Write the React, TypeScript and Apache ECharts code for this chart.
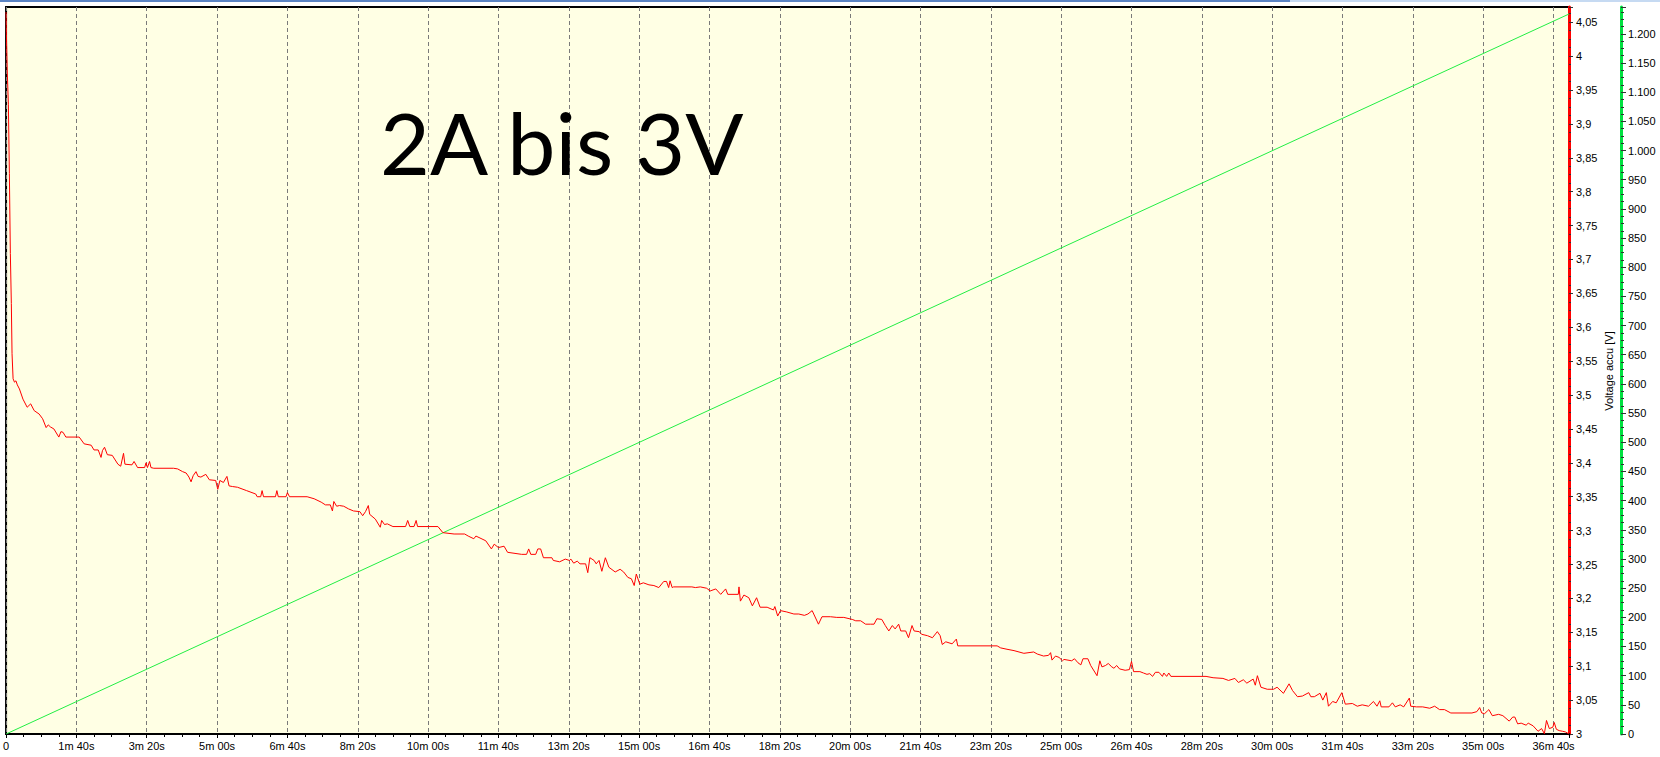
import {useEffect, useRef} from 'react';
import * as echarts from 'echarts';

// discharge 2A down to 3V: [seconds, volts]
const voltageDrop = [
    [0, 4.065], [0.5, 4.031], [1.8, 3.975], [3.3, 3.929], [4.7, 3.827], [6.1, 3.709], [7.5, 3.635], [8.5, 3.561], [10, 3.524],
];
const voltageEarly = [
    [12, 3.519], [14, 3.521], [16, 3.515], [19, 3.509], [24, 3.494], [30, 3.482], [35, 3.487], [40, 3.477], [47, 3.472],
    [52, 3.465], [57, 3.452], [60, 3.456], [63, 3.453], [68, 3.45], [75, 3.438], [78, 3.446], [81, 3.445], [85, 3.438],
    [104, 3.438], [111, 3.428], [121, 3.426], [125, 3.419], [131, 3.419], [135, 3.408], [137, 3.418], [140, 3.423],
    [144, 3.412], [151, 3.411], [159, 3.398], [163, 3.395], [167, 3.414], [169, 3.398], [179, 3.397], [182, 3.402],
    [187, 3.393], [197, 3.393], [199, 3.4], [201, 3.393], [204, 3.402], [206, 3.393], [210, 3.392], [238, 3.392],
    [244, 3.391], [251, 3.387], [256, 3.385], [260, 3.379], [263, 3.372], [266, 3.381], [270, 3.387], [273, 3.38],
    [277, 3.379], [284, 3.383], [289, 3.375], [298, 3.374], [301, 3.361], [304, 3.374], [309, 3.371], [314, 3.38],
    [317, 3.366], [322, 3.365], [329, 3.364], [342, 3.359], [355, 3.354], [357, 3.35], [362, 3.35], [364, 3.359],
    [366, 3.35], [383, 3.35], [385, 3.359], [387, 3.35], [398, 3.35], [400, 3.356], [403, 3.35], [428, 3.35],
    [438, 3.347], [448, 3.342], [454, 3.338], [461, 3.338], [464, 3.329], [466, 3.343], [470, 3.336], [474, 3.337],
    [480, 3.336], [487, 3.332], [494, 3.329], [503, 3.328], [507, 3.322], [511, 3.328], [515, 3.337], [517, 3.324],
    [525, 3.317], [532, 3.305], [534, 3.315], [538, 3.309], [542, 3.31], [550, 3.306], [568, 3.306], [571, 3.315],
    [574, 3.306], [580, 3.306], [583, 3.315], [585, 3.306], [614, 3.306], [621, 3.297], [637, 3.295], [652, 3.295],
    [657, 3.292], [665, 3.288], [668, 3.292], [682, 3.285], [690, 3.273], [694, 3.28], [700, 3.275], [708, 3.277],
    [713, 3.268], [733, 3.265], [740, 3.265], [743, 3.273], [746, 3.265], [753, 3.265], [756, 3.273], [760, 3.273],
    [764, 3.26],
];
const voltageMiddle = [
    [776, 3.26], [778, 3.256], [787, 3.254], [795, 3.258], [801, 3.256], [803, 3.258], [807, 3.252], [812, 3.255],
    [816, 3.251], [824, 3.251], [827, 3.238], [830, 3.26], [836, 3.256], [839, 3.251], [843, 3.256], [847, 3.24],
    [852, 3.26], [857, 3.246], [866, 3.239], [873, 3.243], [878, 3.239], [884, 3.231], [889, 3.229], [893, 3.219],
    [896, 3.236], [901, 3.221], [906, 3.223], [914, 3.22], [921, 3.219], [928, 3.216], [935, 3.225], [939, 3.225],
    [942, 3.216], [944, 3.226], [947, 3.216], [949, 3.217], [975, 3.217], [980, 3.216], [987, 3.217], [996, 3.215],
    [1001, 3.211], [1009, 3.214], [1016, 3.206], [1023, 3.214], [1026, 3.206], [1041, 3.206], [1042, 3.217],
    [1044, 3.196], [1049, 3.205], [1056, 3.201], [1061, 3.189], [1067, 3.201], [1072, 3.187], [1082, 3.187],
    [1091, 3.183], [1093, 3.188], [1097, 3.174], [1101, 3.182], [1110, 3.18], [1120, 3.177], [1127, 3.177],
    [1135, 3.175], [1140, 3.177], [1146, 3.182], [1155, 3.162], [1160, 3.173], [1172, 3.173], [1181, 3.172],
    [1191, 3.172], [1203, 3.169], [1208, 3.167], [1215, 3.167], [1222, 3.162], [1229, 3.162], [1234, 3.162],
    [1238, 3.17], [1245, 3.169], [1250, 3.16], [1255, 3.152], [1260, 3.16], [1264, 3.155], [1269, 3.162],
    [1272, 3.152], [1279, 3.152], [1283, 3.142], [1288, 3.16], [1291, 3.152], [1298, 3.151], [1302, 3.147],
    [1310, 3.145], [1317, 3.142], [1324, 3.151], [1328, 3.145], [1331, 3.132], [1336, 3.136], [1345, 3.133],
    [1351, 3.14], [1353, 3.13], [1409, 3.13], [1414, 3.127], [1423, 3.125], [1433, 3.123], [1447, 3.119],
    [1461, 3.121], [1466, 3.118], [1475, 3.115],
];
const voltageLate = [
    [1482, 3.116], [1485, 3.12], [1487, 3.109], [1492, 3.115], [1497, 3.113], [1502, 3.108], [1504, 3.11],
    [1515, 3.108], [1519, 3.111], [1524, 3.105], [1528, 3.102], [1531, 3.111], [1538, 3.111], [1542, 3.101],
    [1551, 3.086], [1555, 3.108], [1558, 3.099], [1563, 3.101], [1567, 3.104], [1572, 3.099], [1575, 3.097],
    [1579, 3.101], [1583, 3.096], [1591, 3.094], [1597, 3.095], [1600, 3.107], [1603, 3.092], [1612, 3.092],
    [1617, 3.09], [1622, 3.088], [1626, 3.089], [1630, 3.085], [1634, 3.091], [1639, 3.091], [1644, 3.085],
    [1646, 3.09], [1650, 3.085], [1653, 3.09], [1656, 3.085], [1706, 3.085], [1716, 3.083], [1730, 3.082],
    [1738, 3.079], [1747, 3.082], [1752, 3.076], [1759, 3.08], [1764, 3.075], [1773, 3.081], [1776, 3.072],
    [1779, 3.086], [1784, 3.069], [1793, 3.066], [1802, 3.066], [1807, 3.069], [1816, 3.06], [1824, 3.074],
    [1829, 3.064], [1836, 3.055], [1843, 3.056], [1852, 3.061], [1855, 3.055], [1860, 3.055], [1868, 3.06],
    [1872, 3.05], [1877, 3.061], [1880, 3.041], [1886, 3.048], [1891, 3.046], [1899, 3.061], [1904, 3.044],
    [1914, 3.045], [1921, 3.041], [1928, 3.043], [1937, 3.041], [1944, 3.048], [1949, 3.041], [1953, 3.049],
    [1955, 3.04], [1966, 3.04], [1971, 3.046], [1975, 3.04], [1982, 3.043], [1987, 3.04], [1995, 3.053],
    [1997, 3.041], [2005, 3.04], [2014, 3.04], [2024, 3.038], [2031, 3.041], [2038, 3.036], [2045, 3.036],
    [2054, 3.031], [2077, 3.031], [2084, 3.031], [2091, 3.033], [2095, 3.039], [2098, 3.031], [2102, 3.03],
    [2106, 3.034], [2108, 3.036], [2113, 3.027], [2122, 3.029], [2128, 3.027], [2137, 3.019], [2142, 3.025],
    [2145, 3.025], [2149, 3.015], [2154, 3.016], [2161, 3.013], [2164, 3.016], [2171, 3.012], [2178, 3.004],
    [2183, 3.008], [2187, 3.0005], [2190, 3.02], [2194, 3.008], [2199, 3.01], [2201, 3.017], [2204, 3.007],
    [2208, 3.005], [2213, 3.004], [2217, 3.003], [2222, 3.0],
];
// charged capacity (mAh), green trace
const capacity = [[0, 0], [760, 422], [2222, 1234]];

const TIME_MAX = 2222;
const VOLT_MIN = 3;
const VOLT_MAX = 4.0724;
const MAH_MAX = 1246;

const labelFont = {color: '#000', fontSize: 11, fontFamily: 'Liberation Sans, Arial, sans-serif'};

function fmtTime(v: number) {
    if (v === 0) return '0';
    if (v % 100 !== 0) return '';
    const m = Math.floor(v / 60);
    const s = v % 60;
    return `${m}m ${String(s).padStart(2, '0')}s`;
}

function fmtVolt(v: number) {
    if (Math.abs(v * 20 - Math.round(v * 20)) > 1e-6) return '';
    return String(+v.toFixed(2)).replace('.', ',');
}

function fmtMah(v: number) {
    if (v % 50 !== 0) return '';
    return v >= 1000 ? `${Math.floor(v / 1000)}.${String(v % 1000).padStart(3, '0')}` : String(v);
}

export default function App() {
    const chartRef = useRef<HTMLDivElement | null>(null);

    useEffect(() => {
        const el = chartRef.current;
        if (!el) return;
        const chart = echarts.init(el, null, {renderer: 'svg'});
        chart.setOption({
            animation: false,
            backgroundColor: '#fff',
            grid: {
                left: 6, top: 7, right: 91, bottom: 23,
                show: true, backgroundColor: '#FFFFE4', borderColor: '#000', borderWidth: 2,
            },
            xAxis: {
                type: 'value',
                min: 0,
                max: TIME_MAX,
                interval: 100,
                axisLine: {onZero: false, lineStyle: {color: '#000', width: 2}},
                axisTick: {show: true, length: 4, lineStyle: {color: '#000'}},
                minorTick: {show: true, splitNumber: 4, length: 3, lineStyle: {color: '#000'}},
                splitLine: {show: true, lineStyle: {color: '#7a7a7a', type: [4, 3], width: 1}},
                axisLabel: {...labelFont, margin: 6, formatter: fmtTime, showMaxLabel: false},
            },
            yAxis: [
                {
                    type: 'value',
                    position: 'right',
                    min: VOLT_MIN,
                    max: VOLT_MAX,
                    interval: 0.05,
                    axisLine: {show: true, onZero: false, lineStyle: {color: '#ff0000', width: 3}},
                    axisTick: {show: true, length: 4, lineStyle: {color: '#333'}},
                    minorTick: {show: true, splitNumber: 4, length: 2, lineStyle: {color: '#333'}},
                    splitLine: {show: false},
                    axisLabel: {...labelFont, margin: 7, formatter: fmtVolt, showMaxLabel: false},
                },
                {
                    type: 'value',
                    position: 'right',
                    offset: 52,
                    min: 0,
                    max: MAH_MAX,
                    interval: 50,
                    axisLine: {show: true, onZero: false, lineStyle: {color: '#00e040', width: 3}},
                    axisTick: {show: true, length: 5, lineStyle: {color: '#333'}},
                    minorTick: {show: true, splitNumber: 4, length: 3, lineStyle: {color: '#333'}},
                    splitLine: {show: false},
                    axisLabel: {...labelFont, margin: 7, formatter: fmtMah, showMaxLabel: false},
                },
            ],
            graphic: [
                {type: 'rect', left: 0, top: 0, shape: {width: 1290, height: 2}, style: {fill: '#5b84c4'}, silent: true},
                {type: 'rect', left: 1290, top: 0, shape: {width: 370, height: 2}, style: {fill: '#c6daf2'}, silent: true},
                {
                    type: 'text',
                    x: 380,
                    y: 141,
                    z: 10,
                    style: {
                        text: '2A bis 3V',
                        fill: '#000',
                        fontSize: 86,
                        fontFamily: 'Lato, Open Sans, sans-serif',
                        verticalAlign: 'middle',
                    },
                },
                {
                    type: 'text',
                    x: 1609,
                    y: 371,
                    rotation: Math.PI / 2,
                    style: {
                        text: 'Voltage accu [V]',
                        fill: '#000',
                        fontSize: 11,
                        fontFamily: 'Liberation Sans, Arial, sans-serif',
                        align: 'center',
                        verticalAlign: 'middle',
                    },
                },
            ],
            series: [
                {
                    name: 'Capacity',
                    type: 'line',
                    yAxisIndex: 1,
                    data: capacity,
                    showSymbol: false,
                    lineStyle: {color: '#22ee44', width: 1},
                },
                {
                    name: 'Voltage accu',
                    type: 'line',
                    yAxisIndex: 0,
                    data: [...voltageDrop, ...voltageEarly, ...voltageMiddle, ...voltageLate],
                    showSymbol: false,
                    lineStyle: {color: '#ff0000', width: 1},
                },
            ],
        });
        return () => chart.dispose();
    }, []);

    return (
        <div
            ref={chartRef}
            style={{position: 'absolute', left: 0, top: 0, width: '1660px', height: '757px'}}
        />
    );
}
